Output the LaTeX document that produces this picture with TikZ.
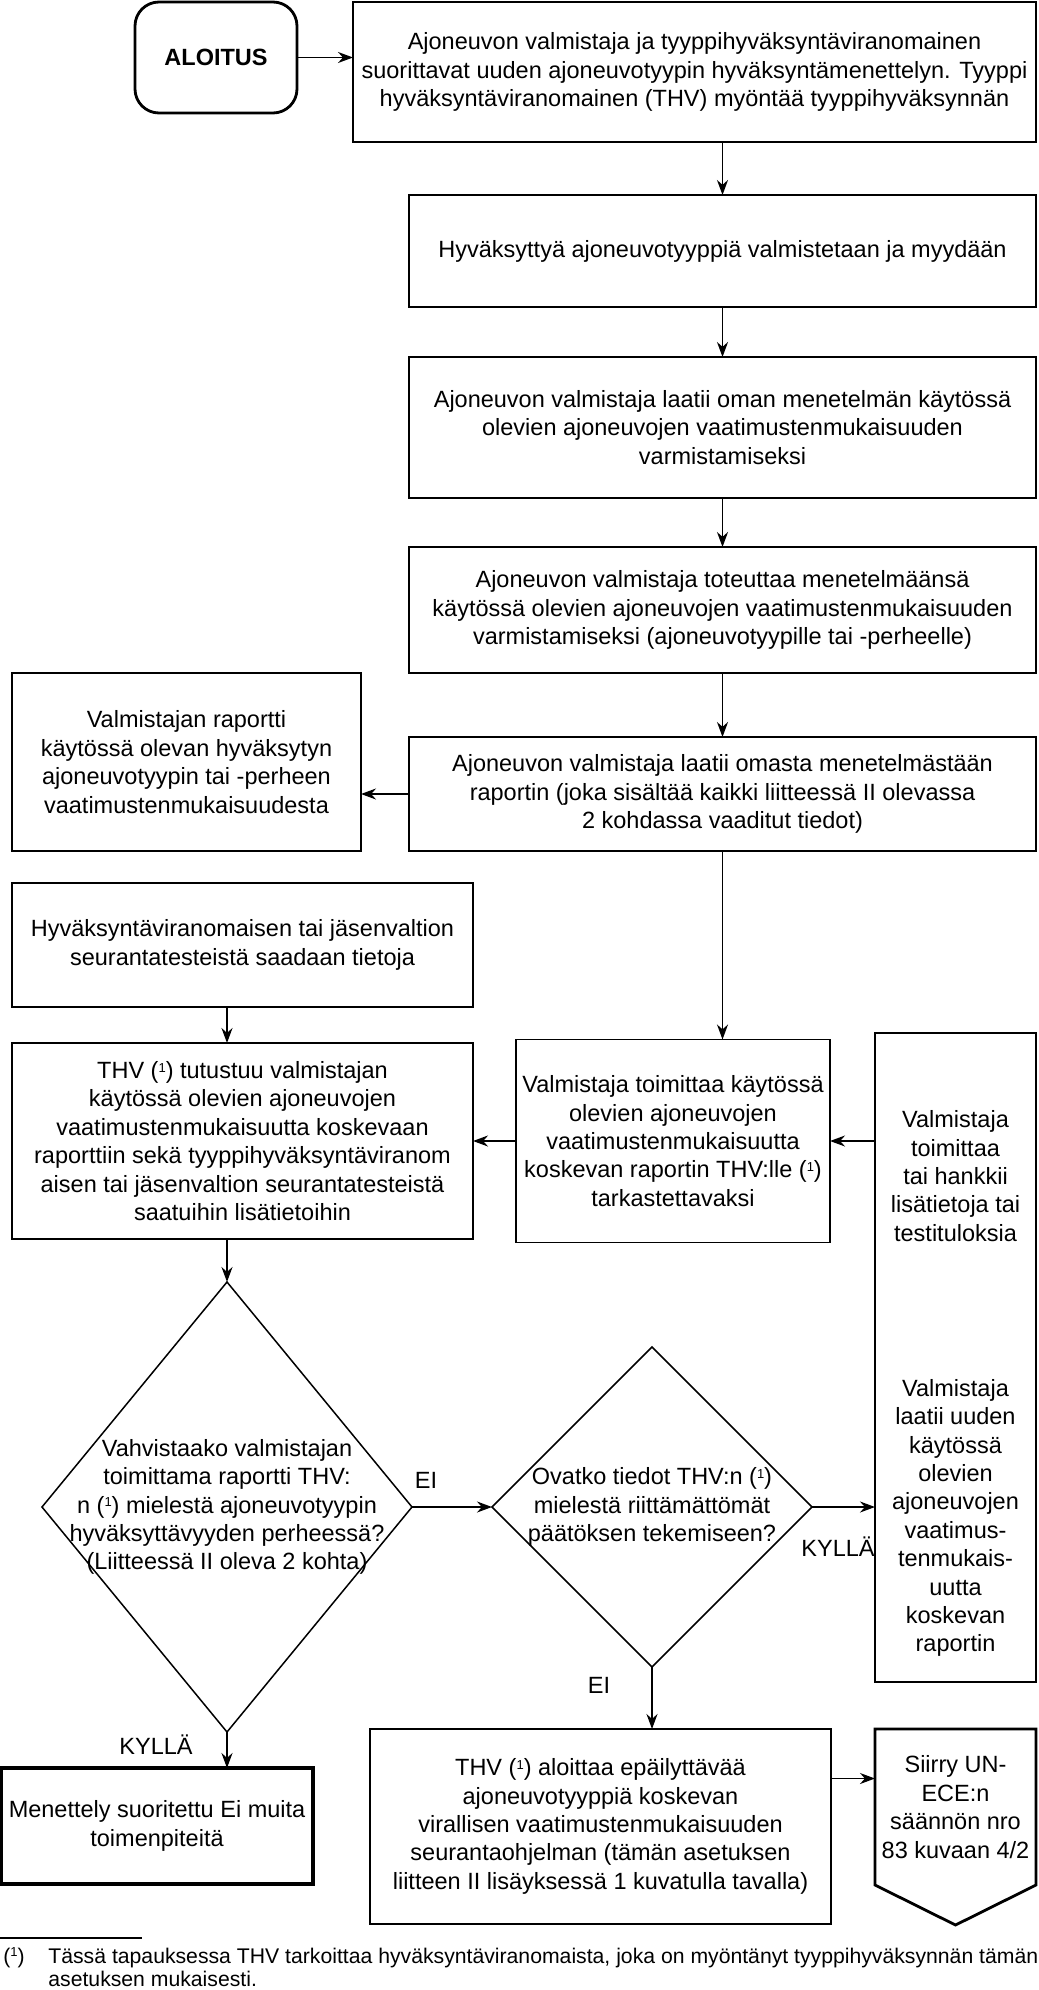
\documentclass[tikz,border=0pt]{standalone}
\usepackage{fontspec}
\setmainfont{Liberation Sans}
\usetikzlibrary{shapes.geometric, arrows.meta, positioning}
\newcommand{\fnone}{({\fontsize{6.5pt}{6.5pt}\selectfont\raisebox{3.2pt}{1}})}
\tikzset{
  font=\fontsize{11.75pt}{14.2pt}\selectfont,
  startbox/.style  = {rectangle, rounded corners=12pt, draw, line width=1.4pt,
                      minimum width=81pt, minimum height=55.5pt, inner sep=0pt,
                      outer sep=0pt, font=\fontsize{11.75pt}{14.2pt}\selectfont\bfseries},
  procbox/.style   = {rectangle, draw, line width=0.75pt, inner sep=0pt,
                      outer sep=0pt, align=center},
  endbox/.style    = {rectangle, draw, line width=1.65pt, inner sep=0pt,
                      outer sep=0pt, align=center},
  decision/.style  = {diamond, draw, line width=0.75pt, inner sep=0pt, outer sep=0pt},
  plain/.style     = {inner sep=0pt, outer sep=0pt, align=center},
  lbl/.style       = {inner sep=1pt},
  fnote/.style     = {inner sep=0pt, align=left, font=\fontsize{10.6pt}{11.5pt}\selectfont},
  arrow/.style     = {-{Stealth[length=7.5pt,width=5.5pt]}, line width=0.75pt}
}

\begin{document}
\begin{tikzpicture}
  \useasboundingbox (0,0) rectangle (519pt,-995pt);
  % main column
  \node[procbox, minimum width=341.5pt, minimum height=70pt, anchor=north east]
       (grant) at (518pt,-1pt)
       {Ajoneuvon valmistaja ja tyyppihyväksyntäviranomainen\\
        suorittavat uuden ajoneuvotyypin hyväksyntämenettelyn. Tyyppi\\
        hyväksyntäviranomainen (THV) myöntää tyyppihyväksynnän};
  \node[startbox] (start) at (108pt,-28.75pt) {ALOITUS};
  \node[procbox, minimum width=313.5pt, minimum height=56pt]
       (sold) [below left=26.5pt and 0pt of grant.south east]
       {Hyväksyttyä ajoneuvotyyppiä valmistetaan ja myydään};
  \node[procbox, minimum width=313.5pt, minimum height=70.5pt]
       (plan) [below=25pt of sold]
       {Ajoneuvon valmistaja laatii oman menetelmän käytössä\\
        olevien ajoneuvojen vaatimustenmukaisuuden\\
        varmistamiseksi};
  \node[procbox, minimum width=313.5pt, minimum height=63pt]
       (impl) [below=24.5pt of plan]
       {Ajoneuvon valmistaja toteuttaa menetelmäänsä\\
        käytössä olevien ajoneuvojen vaatimustenmukaisuuden\\
        varmistamiseksi (ajoneuvotyypille tai -perheelle)};
  \node[procbox, minimum width=313.5pt, minimum height=57pt]
       (report) [below=32pt of impl]
       {Ajoneuvon valmistaja laatii omasta menetelmästään\\
        raportin (joka sisältää kaikki liitteessä II olevassa\\
        2 kohdassa vaaditut tiedot)};
  \node[procbox, minimum width=174.5pt, minimum height=89pt]
       (mfrrep) [above left=0pt and 24pt of report.south west]
       {Valmistajan raportti\\
        käytössä olevan hyväksytyn\\
        ajoneuvotyypin tai -perheen\\
        vaatimustenmukaisuudesta};
  \node[procbox, minimum width=230.5pt, minimum height=62pt]
       (survey) [below right=16pt and 0pt of mfrrep.south west]
       {Hyväksyntäviranomaisen tai jäsenvaltion\\
        seurantatesteistä saadaan tietoja};
  \node[procbox, minimum width=230.5pt, minimum height=98pt]
       (review) [below=18pt of survey]
       {THV \fnone{} tutustuu valmistajan\\
        käytössä olevien ajoneuvojen\\
        vaatimustenmukaisuutta koskevaan\\
        raporttiin sekä tyyppihyväksyntäviranom\\
        aisen tai jäsenvaltion seurantatesteistä\\
        saatuihin lisätietoihin};
  \node[procbox, minimum width=157pt, minimum height=101.5pt]
       (submit) [right=21.5pt of review]
       {Valmistaja toimittaa käytössä\\
        olevien ajoneuvojen\\
        vaatimustenmukaisuutta\\
        koskevan raportin THV:lle \fnone\\
        tarkastettavaksi};
  \node[procbox, minimum width=80.5pt, minimum height=324.5pt]
       (extra) [below left=91pt and 0pt of report.south east] {};
  \node[plain] (extra1) at ([yshift=-71.5pt]extra.north)
       {Valmistaja\\toimittaa\\tai hankkii\\lisätietoja tai\\testituloksia};
  \node[plain] (extra2) at ([yshift=-242.5pt]extra.north)
       {Valmistaja\\laatii uuden\\käytössä\\olevien\\ajoneuvojen\\vaatimus-\\
        tenmukais-\\uutta\\koskevan\\raportin};
  % decisions
  \node[decision, minimum width=185pt, minimum height=225pt]
       (q1) [below=21.5pt of review.south, xshift=-7.75pt] {};
  \node[plain] (q1text) at (q1)
       {Vahvistaako valmistajan\\
        toimittama raportti THV:\\
        n \fnone{} mielestä ajoneuvotyypin\\
        hyväksyttävyyden perheessä?\\
        (Liitteessä II oleva 2 kohta)};
  \node[decision, minimum width=160pt, minimum height=160pt]
       (q2) [right=40pt of q1] {};
  \node[plain] (q2text) at (q2)
       {Ovatko tiedot THV:n \fnone\\
        mielestä riittämättömät\\
        päätöksen tekemiseen?};
  % outcomes
  \node[endbox, minimum width=156pt, minimum height=58pt]
       (done) [below=18pt of q1.south, xshift=-35pt]
       {Menettely suoritettu Ei muita\\toimenpiteitä};
  \node[procbox, minimum width=230.5pt, minimum height=97.5pt]
       (monitor) [below=31pt of q2.south, xshift=-25.75pt]
       {THV \fnone{} aloittaa epäilyttävää\\
        ajoneuvotyyppiä koskevan\\
        virallisen vaatimustenmukaisuuden\\
        seurantaohjelman (tämän asetuksen\\
        liitteen II lisäyksessä 1 kuvatulla tavalla)};
  \node[plain, minimum width=80.5pt, minimum height=78pt]
       (goto) [right=22pt of monitor.north east, anchor=north west]
       {Siirry UN-\\ECE:n\\säännön nro\\83 kuvaan 4/2};
  \draw[line width=1.4pt] (goto.north west) -- (goto.north east) -- (goto.south east)
       -- ([yshift=-20pt]goto.south) -- (goto.south west) -- cycle;

  % connectors
  \draw[arrow] (start.east) -- (start.east -| grant.west);
  \draw[arrow] (grant.south -| sold.north) -- (sold.north);
  \draw[arrow] (sold) -- (plan);
  \draw[arrow] (plan) -- (impl);
  \draw[arrow] (impl) -- (report);
  \draw[arrow] (report.west) -- (report.west -| mfrrep.east);
  \draw[arrow] (report.south) -- (report.south |- submit.north);
  \draw[arrow] (survey.south -| q1.north) -- (review.north -| q1.north);
  \draw[arrow] (extra.west |- submit.east) -- (submit.east);
  \draw[arrow] (submit.west) -- (review.east);
  \draw[arrow] (review.south -| q1.north) -- (q1.north);
  \draw[arrow] (q1.east) -- (q2.west);
  \draw[arrow] (q2.east) -- (q2.east -| extra.west);
  \draw[arrow] (q2.south) -- (q2.south |- monitor.north);
  \draw[arrow] (q1.south) -- (q1.south |- done.north);
  \draw[arrow] ([yshift=24pt]monitor.east) -- ([yshift=24pt]monitor.east -| goto.west);

  \node[lbl] (ei1)    at ([xshift=7pt,yshift=13.5pt]q1.east)     {EI};
  \node[lbl] (kylla1) at ([xshift=13pt,yshift=-20pt]q2.east)     {KYLLÄ};
  \node[lbl] (ei2)    at ([xshift=-26.5pt,yshift=-9pt]q2.south)  {EI};
  \node[lbl] (kylla2) at ([xshift=-35.5pt,yshift=-6.5pt]q1.south) {KYLLÄ};

  % footnote
  \coordinate (fnrule) at (0pt,-969pt);
  \draw[line width=0.75pt] (fnrule) -- ++(71pt,0);
  \node[fnote, anchor=base west] (fnmark) at (1.5pt,-981.5pt) {\fnone};
  \node[fnote, anchor=base west] (fntext) at (24pt,-993pt)
       {Tässä tapauksessa THV tarkoittaa hyväksyntäviranomaista, joka on myöntänyt tyyppihyväksynnän tämän\\
        asetuksen mukaisesti.};
\end{tikzpicture}
\end{document}
